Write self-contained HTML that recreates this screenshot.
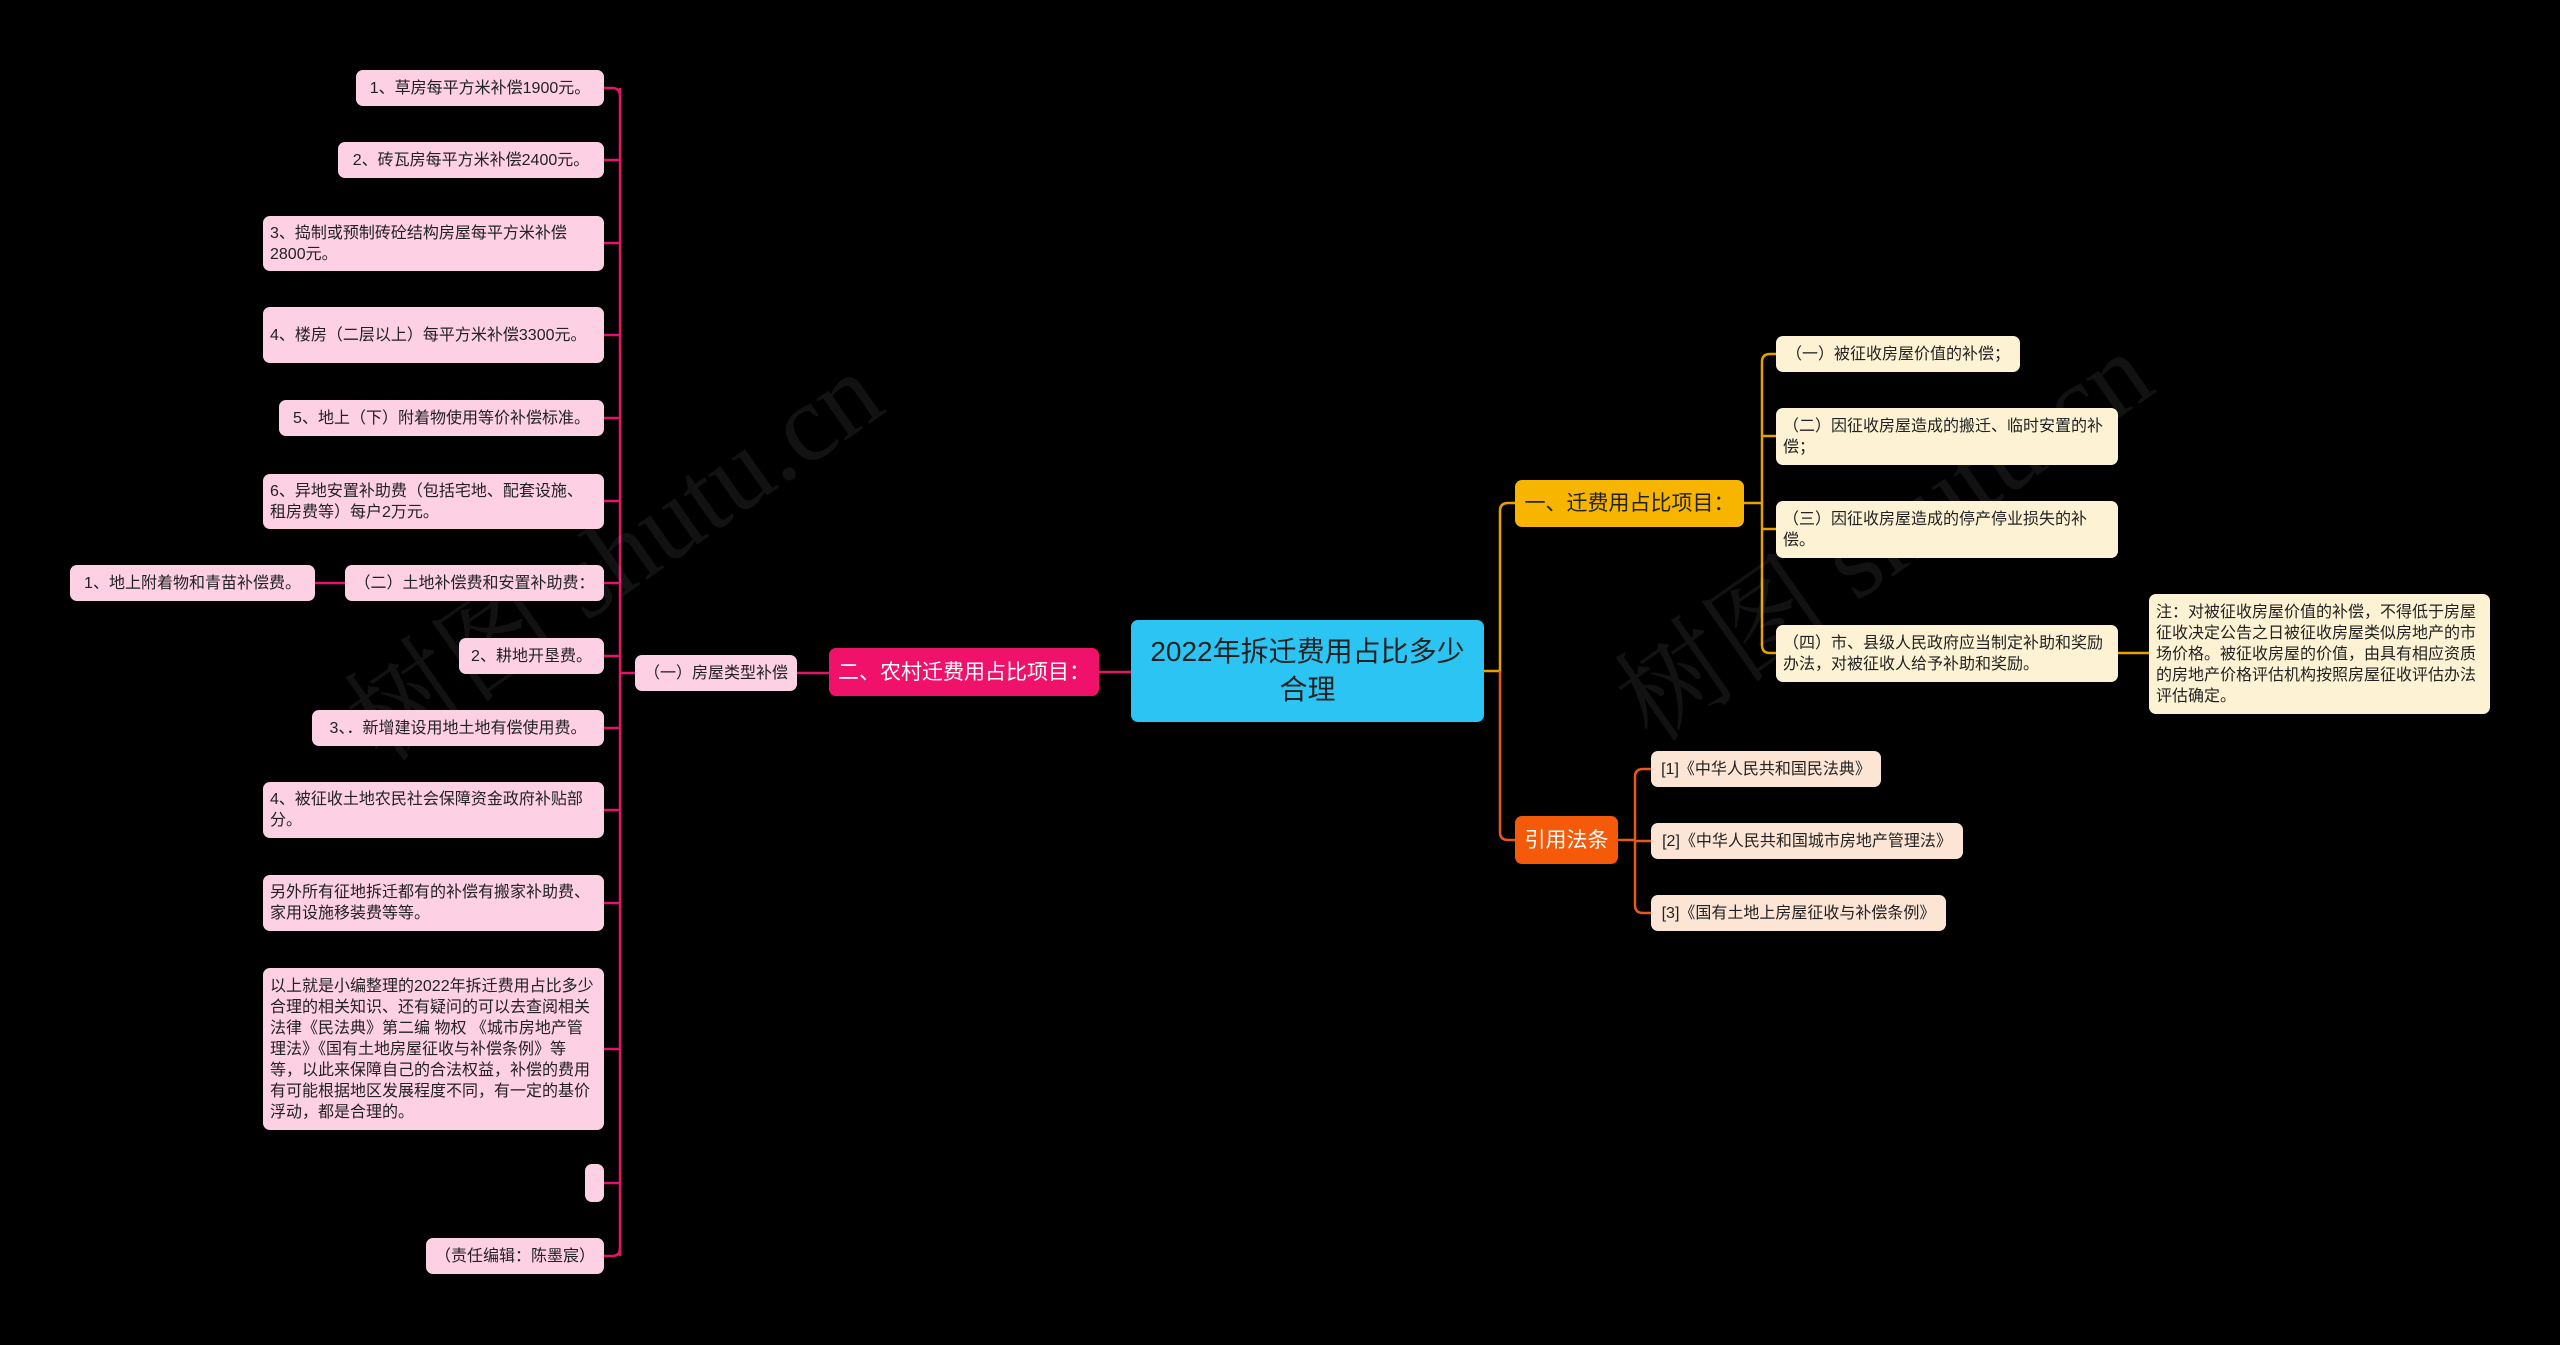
<!DOCTYPE html>
<html><head><meta charset="utf-8"><style>
body{margin:0;width:2560px;height:1345px;background:#000;position:relative;overflow:hidden;font-family:"Liberation Sans","Noto Sans CJK SC",sans-serif}
.n{position:absolute;box-sizing:border-box;border-radius:7px;font-size:16px;line-height:21px;color:#222;padding:6px 7px;display:flex;align-items:center}
.s{white-space:nowrap;justify-content:center;padding:0 4px}
.p{background:#fdd0e4}
.y{background:#fdf3d4}
.o{background:#fde5d6}
.wm{position:absolute;color:#fff;opacity:0.07;font-family:"Liberation Serif","Noto Serif CJK SC",serif;font-size:110px;transform:rotate(-35deg);white-space:nowrap}
</style></head><body>
<svg width="2560" height="1345" style="position:absolute;left:0;top:0" fill="none">
<g stroke="#e0156b" stroke-width="2.5">
<path d="M620 88 V1256"/>
<path d="M604 88 H612 Q620 88 620 96"/>
<path d="M604 160 H620 M604 243 H620 M604 335 H620 M604 418 H620 M604 501 H620 M604 583 H620 M604 656 H620 M604 728 H620 M604 810 H620 M604 903 H620 M604 1049 H620 M604 1183 H620"/>
<path d="M604 1256 H612 Q620 1256 620 1248"/>
<path d="M620 673 H635 M797 673 H829 M1099 672 H1131 M315 583 H345"/>
</g>
<g stroke="#e8a000" stroke-width="2.5">
<path d="M1484 671 H1500"/>
<path d="M1500 671 V511 Q1500 503 1508 503 H1515"/>
<path d="M1744 503 H1762 M1762 362 Q1762 354 1770 354 H1776 M1762 362 V645 Q1762 653 1770 653 H1776 M1762 436 H1776 M1762 529 H1776 M2118 653 H2149"/>
</g>
<g stroke="#e8581a" stroke-width="2.5">
<path d="M1500 671 V832 Q1500 840 1508 840 H1515"/>
<path d="M1618 840 H1635 M1635 777 Q1635 769 1643 769 H1651 M1635 777 V905 Q1635 913 1643 913 H1651 M1635 841 H1651"/>
</g>
</svg>
<div class="wm" style="left:300px;top:470px">树图 shutu.cn</div>
<div class="wm" style="left:1570px;top:450px">树图 shutu.cn</div>

<div class="n p s" style="left:356px;top:70px;width:248px;height:36px">1、草房每平方米补偿1900元。</div>
<div class="n p s" style="left:338px;top:142px;width:266px;height:36px">2、砖瓦房每平方米补偿2400元。</div>
<div class="n p" style="left:263px;top:216px;width:341px;height:55px">3、捣制或预制砖砼结构房屋每平方米补偿2800元。</div>
<div class="n p" style="left:263px;top:307px;width:341px;height:56px">4、楼房（二层以上）每平方米补偿3300元。</div>
<div class="n p s" style="left:279px;top:400px;width:325px;height:36px">5、地上（下）附着物使用等价补偿标准。</div>
<div class="n p" style="left:263px;top:474px;width:341px;height:55px">6、异地安置补助费（包括宅地、配套设施、租房费等）每户2万元。</div>
<div class="n p s" style="left:345px;top:565px;width:259px;height:36px">（二）土地补偿费和安置补助费：</div>
<div class="n p s" style="left:70px;top:565px;width:245px;height:36px">1、地上附着物和青苗补偿费。</div>
<div class="n p s" style="left:459px;top:638px;width:145px;height:36px">2、耕地开垦费。</div>
<div class="n p s" style="left:312px;top:710px;width:292px;height:36px">3、．新增建设用地土地有偿使用费。</div>
<div class="n p" style="left:263px;top:782px;width:341px;height:56px">4、被征收土地农民社会保障资金政府补贴部分。</div>
<div class="n p" style="left:263px;top:875px;width:341px;height:56px">另外所有征地拆迁都有的补偿有搬家补助费、家用设施移装费等等。</div>
<div class="n p" style="left:263px;top:968px;width:341px;height:162px">以上就是小编整理的2022年拆迁费用占比多少合理的相关知识、还有疑问的可以去查阅相关法律《民法典》第二编 物权 《城市房地产管理法》《国有土地房屋征收与补偿条例》等等，以此来保障自己的合法权益，补偿的费用有可能根据地区发展程度不同，有一定的基价浮动，都是合理的。</div>
<div class="n p" style="left:585px;top:1164px;width:19px;height:38px"></div>
<div class="n p s" style="left:426px;top:1238px;width:178px;height:36px">（责任编辑：陈墨宸）</div>
<div class="n p s" style="left:635px;top:655px;width:162px;height:36px">（一）房屋类型补偿</div>
<div class="n s" style="left:829px;top:648px;width:270px;height:48px;background:#f0126a;color:#fff;font-size:21px">二、农村迁费用占比项目：</div>
<div class="n" style="left:1131px;top:620px;width:353px;height:102px;background:#2cc5f3;color:#222;font-size:28px;line-height:38px;text-align:center;justify-content:center">2022年拆迁费用占比多少合理</div>
<div class="n s" style="left:1515px;top:480px;width:229px;height:47px;background:#f7b500;color:#222;font-size:21px">一、迁费用占比项目：</div>
<div class="n y s" style="left:1776px;top:336px;width:244px;height:36px">（一）被征收房屋价值的补偿；</div>
<div class="n y" style="left:1776px;top:408px;width:342px;height:57px">（二）因征收房屋造成的搬迁、临时安置的补偿；</div>
<div class="n y" style="left:1776px;top:501px;width:342px;height:57px">（三）因征收房屋造成的停产停业损失的补偿。</div>
<div class="n y" style="left:1776px;top:625px;width:342px;height:57px">（四）市、县级人民政府应当制定补助和奖励办法，对被征收人给予补助和奖励。</div>
<div class="n y" style="left:2149px;top:594px;width:341px;height:120px">注：对被征收房屋价值的补偿，不得低于房屋征收决定公告之日被征收房屋类似房地产的市场价格。被征收房屋的价值，由具有相应资质的房地产价格评估机构按照房屋征收评估办法评估确定。</div>
<div class="n s" style="left:1515px;top:816px;width:103px;height:48px;background:#f55a0a;color:#fff;font-size:21px">引用法条</div>
<div class="n o s" style="left:1651px;top:751px;width:230px;height:36px">[1]《中华人民共和国民法典》</div>
<div class="n o s" style="left:1651px;top:823px;width:312px;height:36px">[2]《中华人民共和国城市房地产管理法》</div>
<div class="n o s" style="left:1651px;top:895px;width:295px;height:36px">[3]《国有土地上房屋征收与补偿条例》</div>
</body></html>
